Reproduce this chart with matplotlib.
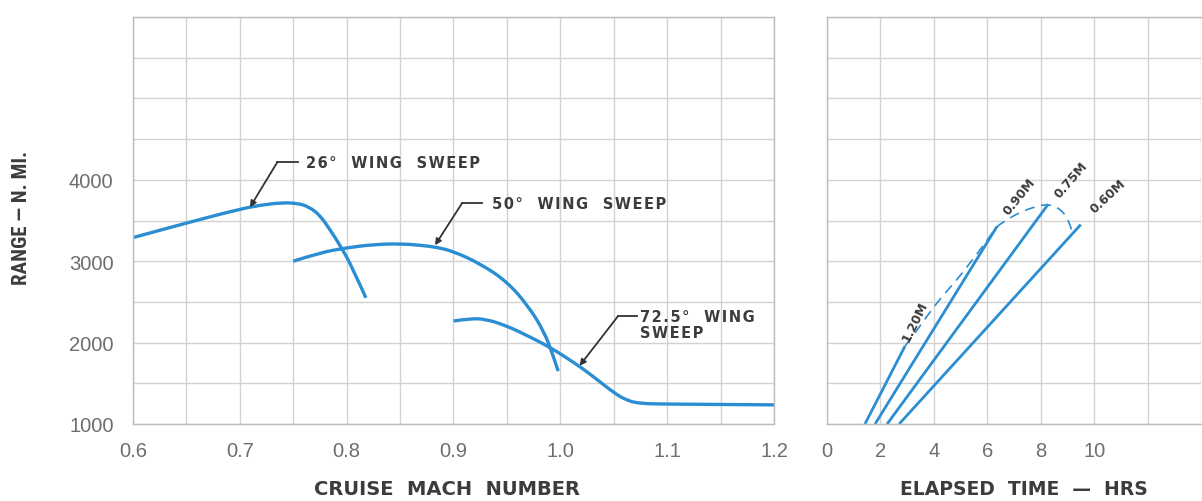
import matplotlib
matplotlib.use("Agg")
import matplotlib.pyplot as plt
from matplotlib.path import Path
from matplotlib.patches import PathPatch
import numpy as np

# ---------------- data ----------------
mach_26 = [0.600, 0.650, 0.700, 0.720, 0.740, 0.755, 0.765, 0.775, 0.785, 0.795, 0.805, 0.818]
range_26 = [3290, 3470, 3640, 3690, 3720, 3710, 3665, 3565, 3375, 3170, 2930, 2550]

mach_50 = [0.750, 0.775, 0.800, 0.825, 0.850, 0.870, 0.885, 0.900, 0.925, 0.950, 0.970, 0.985, 0.993, 0.998]
range_50 = [3000, 3105, 3165, 3205, 3215, 3195, 3170, 3120, 2970, 2750, 2450, 2130, 1850, 1650]

mach_72 = [0.900, 0.915, 0.930, 0.950, 0.970, 0.990, 1.005, 1.020, 1.035, 1.050, 1.062, 1.075, 1.100, 1.150, 1.200]
range_72 = [2265, 2295, 2290, 2205, 2080, 1945, 1820, 1690, 1540, 1385, 1290, 1250, 1245, 1240, 1235]

# elapsed time lines (start, end) for each cruise Mach
mach_labels = ["1.20M", "0.90M", "0.75M", "0.60M"]
hours_start = [1.42, 1.80, 2.25, 2.70]
hours_end = [2.92, 6.37, 8.28, 9.50]
range_start = [1000, 1000, 1000, 1000]
range_end = [1957, 3430, 3700, 3450]

# dashed maximum-range envelope
env_hours = [2.92, 3.48, 4.12, 4.79, 5.47, 6.10, 6.37, 6.60, 7.20, 7.85, 8.28, 8.65, 8.95, 9.10, 9.20]
env_range = [1957, 2200, 2497, 2742, 3025, 3307, 3430, 3480, 3600, 3675, 3700, 3660, 3560, 3440, 3350]

mach_ticks = [0.6, 0.7, 0.8, 0.9, 1.0, 1.1, 1.2]
mach_tick_labels = ["0.6", "0.7", "0.8", "0.9", "1.0", "1.1", "1.2"]
range_ticks = [1000, 2000, 3000, 4000]
range_tick_labels = ["1000", "2000", "3000", "4000"]
hour_ticks = [0, 2, 4, 6, 8, 10]
hour_tick_labels = ["0", "2", "4", "6", "8", "10"]

# ---------------- style ----------------
W, H = 1202, 502
BLUE = "#2b8ed2"
GRID = "#d2d2d2"
SPINE = "#bcbcbc"
TICKC = "#6e6e6e"
TXT = "#3c3c3c"
TICKFONT = ["Liberation Sans", "DejaVu Sans"]


def spaced(s):
    return "\u200a".join(s)


def smooth_curve(ax, xs, ys, **kw):
    """Draw a smooth quadratic B-spline path guided by the read points."""
    pts = list(zip(xs, ys))
    verts = [pts[0]]
    codes = [Path.MOVETO]
    n = len(pts)
    for i in range(1, n - 1):
        if i < n - 2:
            end = ((pts[i][0] + pts[i + 1][0]) / 2, (pts[i][1] + pts[i + 1][1]) / 2)
        else:
            end = pts[n - 1]
        verts += [pts[i], end]
        codes += [Path.CURVE3, Path.CURVE3]
    patch = PathPatch(Path(verts, codes), fill=False, transform=ax.transData, **kw)
    ax.add_patch(patch)
    return patch


fig = plt.figure(figsize=(W / 100, H / 100), dpi=100)
fig.patch.set_facecolor("white")

ax_l = fig.add_axes([133 / W, 1 - 425 / H, (774 - 133) / W, (425 - 18) / H])
ax_r = fig.add_axes([827 / W, 1 - 425 / H, (1201 - 827) / W, (425 - 18) / H])

for ax in (ax_l, ax_r):
    ax.set_ylim(1000, 6000)
    ax.set_yticks(range_ticks)
    ax.set_yticks(np.arange(1000, 6001, 500), minor=True)
    ax.grid(True, which="both", color=GRID, linewidth=1.0)
    ax.set_axisbelow(True)
    ax.tick_params(which="both", length=0, colors=TICKC, labelsize=14.5, pad=12)
    for sp in ax.spines.values():
        sp.set_color(SPINE)
        sp.set_linewidth(1.0)

# left panel
ax_l.set_xlim(0.6, 1.2)
ax_l.set_xticks(mach_ticks)
ax_l.set_xticks(np.arange(0.6, 1.2001, 0.05), minor=True)
ax_l.set_xticklabels(mach_tick_labels, fontfamily=TICKFONT)
ax_l.set_yticklabels(range_tick_labels, fontfamily=TICKFONT)
ax_l.tick_params(axis="y", pad=14)

for xs, ys in ((mach_26, range_26), (mach_50, range_50), (mach_72, range_72)):
    smooth_curve(ax_l, xs, ys, edgecolor=BLUE, lw=2.4, capstyle="butt")

lead = dict(color="#333333", lw=1.3)
arrow = dict(arrowstyle="-|>", color="#333333", lw=1.3, mutation_scale=9, shrinkA=0, shrinkB=0)
afont = dict(fontsize=10.5, fontweight="bold", color=TXT, va="center", ha="left")

# 26 deg
ax_l.plot([0.735, 0.7545], [4215, 4215], **lead)
ax_l.annotate("", xy=(0.7095, 3663), xytext=(0.735, 4215), arrowprops=arrow)
ax_l.text(0.762, 4215, spaced("26°  WING  SWEEP"), **afont)
# 50 deg
ax_l.plot([0.908, 0.927], [3712, 3712], **lead)
ax_l.annotate("", xy=(0.8827, 3196), xytext=(0.908, 3712), arrowprops=arrow)
ax_l.text(0.936, 3712, spaced("50°  WING  SWEEP"), **afont)
# 72.5 deg
ax_l.plot([1.054, 1.072], [2325, 2325], **lead)
ax_l.annotate("", xy=(1.018, 1715), xytext=(1.054, 2325), arrowprops=arrow)
ax_l.text(1.0746, 2225, spaced("72.5°  WING") + "\n" + spaced("SWEEP"),
          linespacing=1.1, **afont)

# right panel
ax_r.set_xlim(0, 14)
ax_r.set_xticks(hour_ticks)
ax_r.set_xticks(np.arange(0, 14.01, 2), minor=True)
ax_r.set_xticklabels(hour_tick_labels, fontfamily=TICKFONT)
ax_r.tick_params(axis="y", labelleft=False)
ax_r.spines["right"].set_visible(False)

for h0, h1, r0, r1 in zip(hours_start, hours_end, range_start, range_end):
    ax_r.plot([h0, h1], [r0, r1], color=BLUE, lw=2.0, solid_capstyle="butt")
smooth_curve(ax_r, env_hours, env_range, edgecolor=BLUE, lw=1.2, linestyle=(0, (6, 4)))

mfont = dict(fontsize=9, fontweight="bold", color=TXT, ha="center", va="center",
             rotation_mode="anchor")
ax_r.text(3.30, 2270, "1.20M", rotation=64, **mfont)
ax_r.text(7.20, 3800, "0.90M", rotation=51, **mfont)
ax_r.text(9.15, 4010, "0.75M", rotation=49, **mfont)
ax_r.text(10.50, 3800, "0.60M", rotation=43, **mfont)

# axis titles
fig.text(22 / W, 1 - 218 / H, "RANGE — N. MI.", rotation=90, ha="center", va="center",
         fontsize=15, fontweight="bold", fontstretch="condensed", color=TXT,
         family=["DejaVu Sans Condensed", "Noto Sans Condensed", "Liberation Sans Narrow",
                 "Roboto Condensed", "DejaVu Sans"])
fig.text(447 / W, 1 - 490 / H, "CRUISE  MACH  NUMBER", ha="center", va="center",
         fontsize=14, fontweight="bold", color=TXT)
fig.text(1024 / W, 1 - 490 / H, "ELAPSED  TIME  —  HRS", ha="center", va="center",
         fontsize=13.5, fontweight="bold", color=TXT)

fig.savefig("out.png", dpi=100, facecolor="white")
